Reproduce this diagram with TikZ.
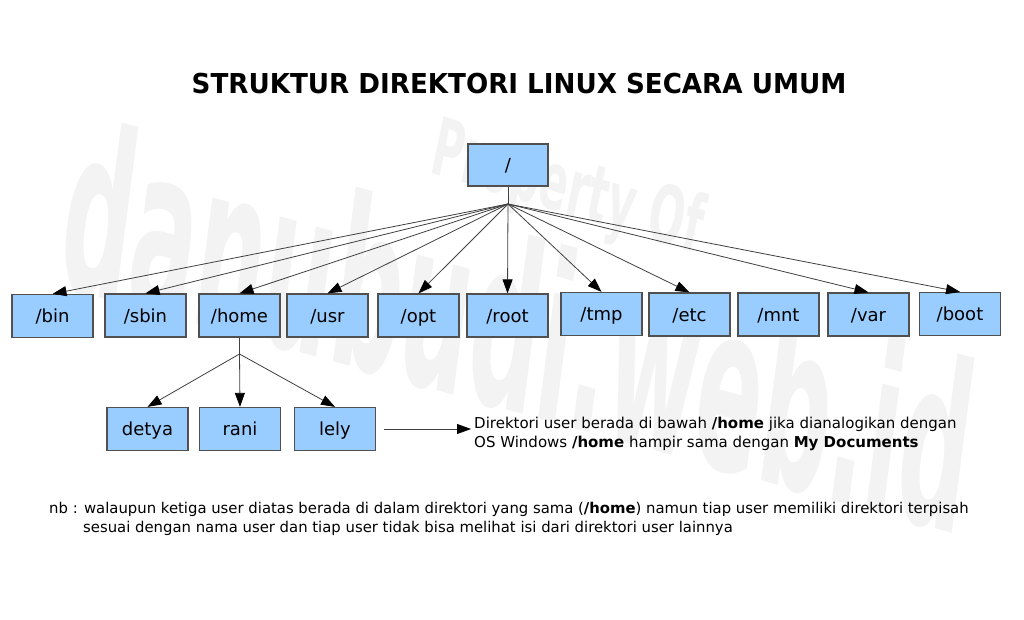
\documentclass[tikz,border=0pt]{standalone}
\usepackage{fontspec}
\setmainfont{DejaVu Sans}
\newfontfamily\titlefont[FakeStretch=0.955]{DejaVu Sans}
\usetikzlibrary{arrows.meta}
\definecolor{boxblue}{HTML}{99CCFF}
\definecolor{boxline}{HTML}{505050}
\definecolor{wmark}{HTML}{F3F3F3}
\begin{document}
\begin{tikzpicture}[x=1pt,y=-1pt,
  dirbox/.style={draw=boxline, line width=1.2pt, fill=boxblue, minimum width=81pt,
    minimum height=43pt, inner sep=0pt, text height=13pt, text depth=0pt,
    font=\fontsize{18}{18}\selectfont},
  link/.style={draw=black!75, line width=0.8pt},
  conn/.style={link, -{Triangle[width=10pt,length=14pt,color=black]}},
  txt/.style={anchor=base west, inner sep=0pt, font=\fontsize{15}{18}\selectfont},
  wm/.style={transform shape, anchor=base west, inner sep=0pt, text=wmark,
    font=\fontsize{100}{100}\selectfont\bfseries}]
\useasboundingbox (0,0) rectangle (1024,620);
\fill[white] (0,0) rectangle (1024,620);
% watermark
\begin{scope}[cm={0.959,-0.265,0.30,2.30,(55,285)}]
  \node[wm] (wm1) at (0,0) {danubudi.web.id};
\end{scope}
\begin{scope}[cm={0.41,-0.125,0.16,0.78,(428,172)}]
  \node[wm] (wm2) at (0,0) {Property Of};
\end{scope}
% title
\node[anchor=base west, inner sep=0pt, font={\titlefont\bfseries\fontsize{27.4}{30}\selectfont}]
  (title) at (191.5,93.3) {STRUKTUR DIREKTORI LINUX SECARA UMUM};
% root
\node[dirbox, minimum width=80pt, minimum height=42pt] (rootdir) at (508,165) {/};
% first level
\node[dirbox] (bin)   at (52.5,316) {/bin};
\node[dirbox] (sbin)  at (145.5,315.5) {/sbin};
\node[dirbox] (home)  at (239.5,315.5) {/home};
\node[dirbox] (usr)   at (327.5,315.5) {/usr};
\node[dirbox] (opt)   at (418.5,315.5) {/opt};
\node[dirbox] (nroot) at (507.5,315.5) {/root};
\node[dirbox] (tmp)   at (601.5,314) {/tmp};
\node[dirbox] (etc)   at (689.5,314.5) {/etc};
\node[dirbox] (mnt)   at (778.5,314.5) {/mnt};
\node[dirbox] (var)   at (868.5,314.5) {/var};
\node[dirbox] (boot)  at (960,314) {/boot};
% users
\node[dirbox] (detya) at (147.5,429) {detya};
\node[dirbox] (rani)  at (240,429) {rani};
\node[dirbox] (lely)  at (335,429) {lely};
% connectors
\coordinate (fan) at (508,204);
\draw[link] (rootdir.south) -- (fan);
\foreach \n in {bin,sbin,home,usr,opt,nroot,tmp,etc,var,boot}
  \draw[conn] (fan) -- (\n.north);
\coordinate (hfan) at (239.5,354);
\draw[link] (home.south) -- (hfan);
\foreach \n in {detya,rani,lely}
  \draw[conn] (hfan) -- (\n.north);
% note
\node[txt] (note1) at (474,428.5) {Direktori user berada di bawah \textbf{/home} jika dianalogikan dengan};
\node[txt] (note2) at (474,447) {OS Windows \textbf{/home} hampir sama dengan \textbf{My Documents}};
\coordinate (notetip) at (471,429);
\draw[conn] ([xshift=8pt]lely.east) -- (notetip);
% nb
\node[txt, font=\fontsize{14.85}{18}\selectfont] (nb1) at (49,513) {nb : walaupun ketiga user diatas berada di dalam direktori yang sama (\textbf{/home}) namun tiap user memiliki direktori terpisah};
\node[txt, font=\fontsize{14.85}{18}\selectfont] (nb2) at (83,532) {sesuai dengan nama user dan tiap user tidak bisa melihat isi dari direktori user lainnya};
\end{tikzpicture}
\end{document}
